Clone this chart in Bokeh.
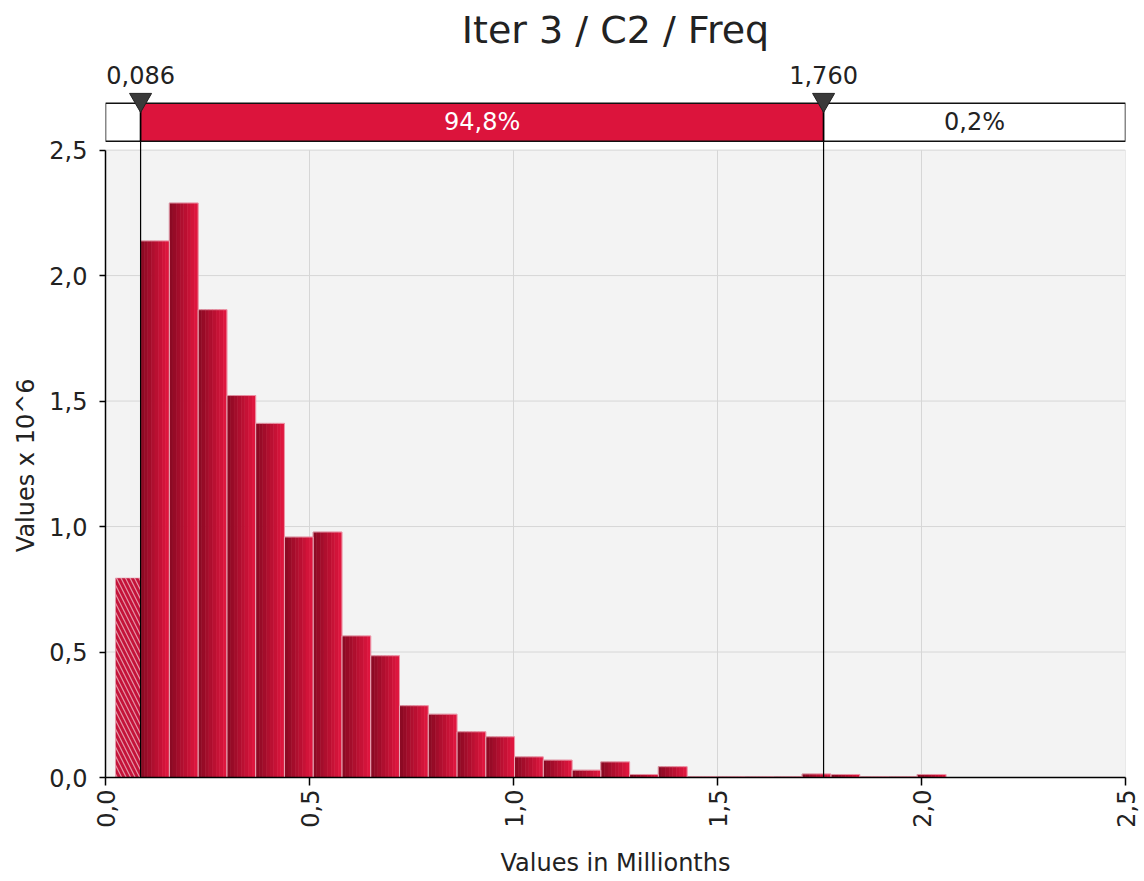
import math
from bokeh.plotting import figure
from bokeh.models import Range1d, CustomJSTickFormatter, FixedTicker
from bokeh.embed import file_html
from bokeh.resources import INLINE
from bokeh.core.properties import value

# ---------------- data ----------------
title_text = "Iter 3 / C2 / Freq"
x_label = "Values in Millionths"
y_label = "Values x 10^6"

lower_delim = 0.086
upper_delim = 1.760
pct_left = 5.0
pct_mid = 94.8
pct_right = 0.2

tail_left = 0.0245          # first (hatched) partial bin, below the lower delimiter
tail_height = 0.795
bin_start = 0.086
bin_width = 0.0705
heights = [2.138, 2.289, 1.864, 1.522, 1.411, 0.958, 0.978, 0.564, 0.485, 0.286,
           0.252, 0.182, 0.162, 0.082, 0.069, 0.029, 0.062, 0.012, 0.043, 0.004,
           0.004, 0.004, 0.004, 0.014, 0.012, 0.004, 0.004, 0.012]

x_ticks = [0.0, 0.5, 1.0, 1.5, 2.0, 2.5]
y_ticks = [0.0, 0.5, 1.0, 1.5, 2.0, 2.5]
x_min, x_max = 0.0, 2.5
y_min, y_max = 0.0, 2.5

# ---------------- layout / style ----------------
FONT = "DejaVu Sans"
CRIMSON = "#DC143C"
DARK = (140, 10, 36)
LIGHT = (222, 22, 62)
TXT = "#222222"

BORDER_L, BORDER_R, BORDER_B = 105, 15, 100
FRAME_W = 1020
FRAME_H = 779                 # whole frame (plot area + header area above it)
PLOT_H = 629                  # height of the 0..2.5 plot area in px
y_top = y_max * FRAME_H / PLOT_H

fmt = CustomJSTickFormatter(code="return tick.toFixed(1).replace('.', ',');")

p = figure(width=BORDER_L + FRAME_W + BORDER_R, height=FRAME_H + BORDER_B,
           x_range=Range1d(x_min, x_max), y_range=Range1d(y_min, y_top),
           output_backend="svg", toolbar_location=None,
           min_border_left=BORDER_L, min_border_right=BORDER_R,
           min_border_top=0, min_border_bottom=BORDER_B)
# pixel-like range for the header (0 at bottom of frame, FRAME_H at its top)
p.extra_y_ranges = {"px": Range1d(0, FRAME_H)}
p.background_fill_color = "white"
p.border_fill_color = "white"
p.outline_line_color = None
p.grid.visible = False

p.xaxis.ticker = FixedTicker(ticks=x_ticks)
p.yaxis.ticker = FixedTicker(ticks=y_ticks)
p.xaxis.formatter = fmt
p.yaxis.formatter = fmt
p.xaxis.bounds = (x_min, x_max)
p.yaxis.bounds = (y_min, y_max)
for ax in (p.xaxis, p.yaxis):
    ax.axis_line_color = "black"
    ax.axis_line_width = 1.5
    ax.major_tick_line_color = "black"
    ax.major_tick_line_width = 1.5
    ax.minor_tick_line_color = None
    ax.major_tick_in = 0
    ax.major_label_text_font = FONT
    ax.major_label_text_font_size = "24px"
    ax.major_label_text_color = TXT
    ax.axis_label_text_font = FONT
    ax.axis_label_text_font_size = "24px"
    ax.axis_label_text_font_style = "normal"
    ax.axis_label_text_color = TXT
p.xaxis.major_tick_out = 8
p.yaxis.major_tick_out = 6
p.xaxis.major_label_orientation = math.pi / 2
p.xaxis.major_label_standoff = 4
p.yaxis.major_label_standoff = 12
p.xaxis.axis_label = x_label
p.xaxis.axis_label_standoff = 18
# the axis title is centred on the whole frame (which includes the header);
# trailing non-breaking spaces move the visible words down onto the 0..2.5 plot area
p.yaxis.axis_label = y_label + "\u00a0" * 20
p.yaxis.axis_label_standoff = 6

# plot-area background and grid
p.quad(left=[x_min], right=[x_max], bottom=[y_min], top=[y_max],
       fill_color="#f3f3f3", line_color=None)
p.segment(x0=x_ticks, y0=y_min, x1=x_ticks, y1=y_max, line_color="#d6d6d6", line_width=1)
p.segment(x0=x_min, y0=y_ticks, x1=x_max, y1=y_ticks, line_color="#d6d6d6", line_width=1)

# gradient bars built as vertical strips (dark left -> light right)
N_STRIPS = 8
sl, sr, st, sc = [], [], [], []
for i, h in enumerate(heights):
    left = bin_start + i * bin_width
    for k in range(N_STRIPS):
        t = k / (N_STRIPS - 1)
        r = int(DARK[0] + (LIGHT[0] - DARK[0]) * t)
        g = int(DARK[1] + (LIGHT[1] - DARK[1]) * t)
        b = int(DARK[2] + (LIGHT[2] - DARK[2]) * t)
        sl.append(left + bin_width * k / N_STRIPS)
        sr.append(left + bin_width * (k + 1) / N_STRIPS)
        st.append(h)
        sc.append("#%02x%02x%02x" % (r, g, b))
p.quad(left=sl, right=sr, bottom=0, top=st, fill_color=sc, line_color=sc, line_width=0.6)

lefts = [bin_start + i * bin_width for i in range(len(heights))]
rights = [l + bin_width for l in lefts]
p.quad(left=lefts, right=rights, bottom=0, top=heights, fill_color=None,
       line_color="#f2b8c4", line_alpha=0.7, line_width=1)

# hatched tail bin below the lower delimiter
p.quad(left=[tail_left], right=[lower_delim], bottom=[0], top=[tail_height],
       fill_color="#c4133a", line_color="#e7a0b0", line_alpha=0.6,
       hatch_pattern="\\", hatch_color="white", hatch_alpha=0.55,
       hatch_scale=9, hatch_weight=1.2)

# ---------------- header: delimiter bar, markers, title ----------------
bar_bottom, bar_top = FRAME_H - 141, FRAME_H - 103
seg_left = [x_min, lower_delim, upper_delim]
seg_right = [lower_delim, upper_delim, x_max]
seg_pct = [pct_left, pct_mid, pct_right]
seg_fill = ["white", CRIMSON, "white"]
seg_text_col = [TXT, "white", TXT]

# delimiter lines from the x axis up through the bar
p.segment(x0=[lower_delim, upper_delim], y0=0, x1=[lower_delim, upper_delim], y1=bar_top,
          line_color="black", line_width=1.2, y_range_name="px")

p.quad(left=seg_left, right=seg_right, bottom=bar_bottom, top=bar_top,
       fill_color=seg_fill, line_color="#111111", line_width=1.5, y_range_name="px")
p.segment(x0=[lower_delim, upper_delim], y0=bar_bottom, x1=[lower_delim, upper_delim], y1=bar_top,
          line_color="black", line_width=1.2, y_range_name="px")

tx, tt, tc = [], [], []
for l, r, pc, col in zip(seg_left, seg_right, seg_pct, seg_text_col):
    if (r - l) > 0.2:
        tx.append((l + r) / 2)
        tt.append(("%.1f%%" % pc).replace(".", ","))
        tc.append(col)
p.text(x=tx, y=(bar_bottom + bar_top) / 2, text=tt, text_color=tc,
       text_font=value(FONT), text_font_size="24px",
       text_align="center", text_baseline="middle", y_range_name="px")

p.scatter(x=[lower_delim, upper_delim], y=FRAME_H - 99.5, marker="inverted_triangle", size=22,
          fill_color="#3a3a3a", line_color="#222222", y_range_name="px")
p.text(x=[lower_delim, upper_delim], y=FRAME_H - 75,
       text=[("%.3f" % lower_delim).replace(".", ","), ("%.3f" % upper_delim).replace(".", ",")],
       text_font=value(FONT), text_font_size="24px", text_color=TXT,
       text_align="center", text_baseline="middle", y_range_name="px")

p.text(x=[(x_min + x_max) / 2], y=FRAME_H - 30, text=[title_text], text_font=value(FONT),
       text_font_size="38px", text_color=TXT, text_align="center", text_baseline="middle",
       y_range_name="px")

open("out.html", "w").write(file_html(p, INLINE))
